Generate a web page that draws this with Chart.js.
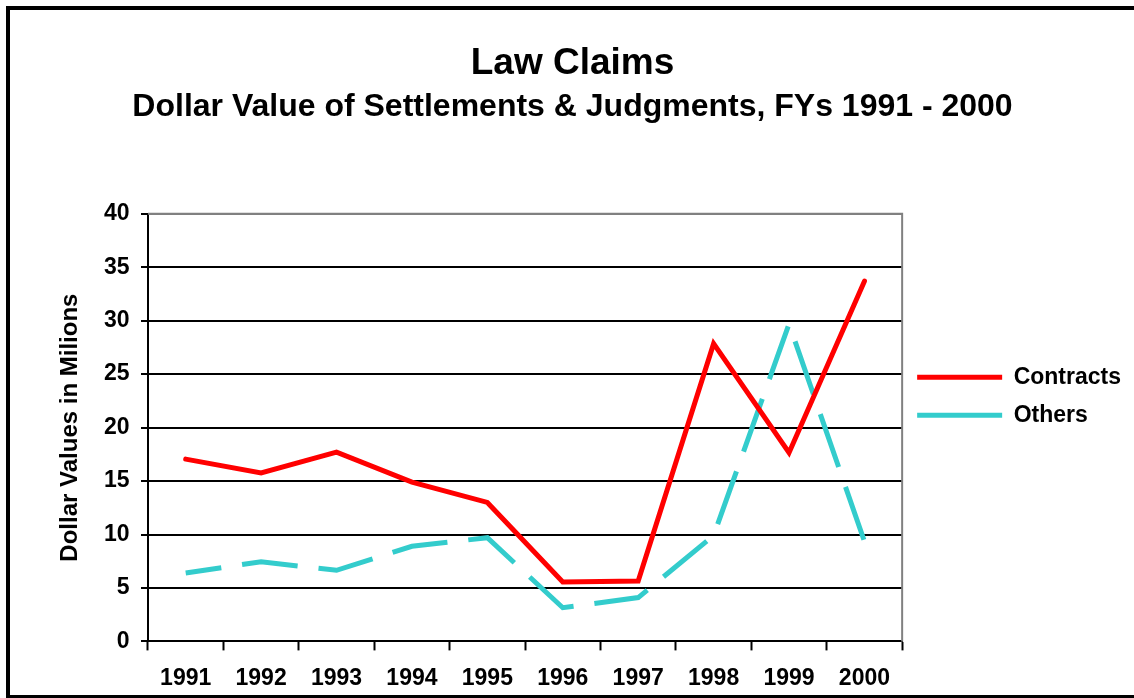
<!DOCTYPE html>
<html>
<head>
<meta charset="utf-8">
<script src="https://cdn.jsdelivr.net/npm/chart.js@4"></script>
<style>
  html, body { margin: 0; padding: 0; background: #ffffff; }
  #wrap { position: relative; width: 1134px; height: 698px; overflow: hidden; background: #ffffff; }
  #c { position: absolute; left: 0; top: 0; }
  #frame { position: absolute; left: 6px; top: 6px; width: 1300px; height: 685px;
           border-left: 4px solid #000; border-top: 4px solid #000; border-bottom: 4px solid #000;
           pointer-events: none; }
</style>
</head>
<body>
<div id="wrap">
  <canvas id="c" width="1134" height="698"></canvas>
  <div id="frame"></div>
</div>
<script>
const categories = ['1991', '1992', '1993', '1994', '1995', '1996', '1997', '1998', '1999', '2000'];
const contracts = [17.05, 15.75, 17.7, 14.9, 13.0, 5.55, 5.65, 27.85, 17.65, 33.7];
const others = [6.4, 7.45, 6.65, 8.9, 9.7, 3.15, 4.1, 9.9, 29.7, 9.35];
const seriesNames = ['Contracts', 'Others'];
const yTicks = [0, 5, 10, 15, 20, 25, 30, 35, 40];
const titleText = 'Law Claims';
const subtitleText = 'Dollar Value of Settlements & Judgments, FYs 1991 - 2000';
const yTitleText = 'Dollar Values in Milions';

Chart.defaults.font.family = 'Arial, "Liberation Sans", sans-serif';
Chart.defaults.color = '#000000';

const plotFrame = {
  id: 'plotFrame',
  afterDraw(chart) {
    const a = chart.chartArea, ctx = chart.ctx;
    ctx.save();
    ctx.strokeStyle = '#808080';
    ctx.lineWidth = 2;
    ctx.beginPath();
    ctx.moveTo(a.left, a.top);
    ctx.lineTo(a.right, a.top);
    ctx.lineTo(a.right, a.bottom);
    ctx.stroke();
    ctx.restore();
  }
};

new Chart(document.getElementById('c'), {
  type: 'line',
  data: {
    labels: categories,
    datasets: [
      {
        label: seriesNames[0],
        data: contracts,
        borderColor: '#FF0000',
        backgroundColor: '#FF0000',
        borderWidth: 5,
        borderCapStyle: 'round',
        pointRadius: 0,
        pointHoverRadius: 0,
        tension: 0,
        fill: false
      },
      {
        label: seriesNames[1],
        data: others,
        borderColor: '#33CCCC',
        backgroundColor: '#33CCCC',
        borderWidth: 5,
        borderDash: [56, 21],
        borderDashOffset: 20,
        pointRadius: 0,
        pointHoverRadius: 0,
        tension: 0,
        fill: false
      }
    ]
  },
  options: {
    responsive: false,
    animation: false,
    events: [],
    layout: { padding: { left: 14, right: 3, top: 0, bottom: -9 } },
    plugins: {
      title: {
        display: true,
        text: titleText,
        font: { size: 37, weight: 'bold' },
        color: '#000',
        padding: { top: 42, bottom: 0 }
      },
      subtitle: {
        display: true,
        text: subtitleText,
        font: { size: 32, weight: 'bold' },
        color: '#000',
        padding: { top: 2, bottom: 87 }
      },
      legend: {
        display: true,
        position: 'right',
        align: 'start',
        fullSize: false,
        title: { display: true, text: '', font: { size: 10, lineHeight: 1 }, padding: { top: 127, bottom: 0 } },
        labels: {
          usePointStyle: true,
          pointStyle: 'line',
          pointStyleWidth: 85,
          padding: 15,
          color: '#000',
          font: { size: 23, weight: 'bold' },
          generateLabels(chart) {
            const items = Chart.defaults.plugins.legend.labels.generateLabels(chart);
            items.forEach((it, i) => {
              it.lineWidth = 5;
              if (i === 1) it.lineDashOffset = 27;
            });
            return items;
          }
        }
      },
      tooltip: { enabled: false }
    },
    scales: {
      x: {
        type: 'category',
        offset: true,
        grid: {
          offset: true,
          drawOnChartArea: false,
          drawTicks: true,
          tickLength: 9,
          tickWidth: 2,
          tickColor: '#000',
          color: '#000'
        },
        border: { display: true, color: '#000', width: 2 },
        ticks: {
          padding: 14.5,
          color: '#000',
          font: { size: 23, weight: 'bold' },
          maxRotation: 0,
          autoSkip: false
        }
      },
      y: {
        min: 0,
        max: 40,
        afterBuildTicks(scale) { scale.ticks = yTicks.map(v => ({ value: v })); },
        grid: {
          drawTicks: true,
          tickLength: 7,
          lineWidth: 2,
          color: ctx => (ctx.tick && ctx.tick.value === 40) ? '#808080' : '#000',
          tickColor: '#000',
          tickWidth: 2
        },
        border: { display: true, color: '#000', width: 2 },
        ticks: {
          padding: 11.5,
          color: '#000',
          font: { size: 23, weight: 'bold' }
        },
        title: {
          display: true,
          text: yTitleText,
          color: '#000',
          font: { size: 24, weight: 'bold' },
          padding: { top: 42.3, bottom: 7.3 }
        }
      }
    }
  },
  plugins: [plotFrame]
});
</script>
</body>
</html>
